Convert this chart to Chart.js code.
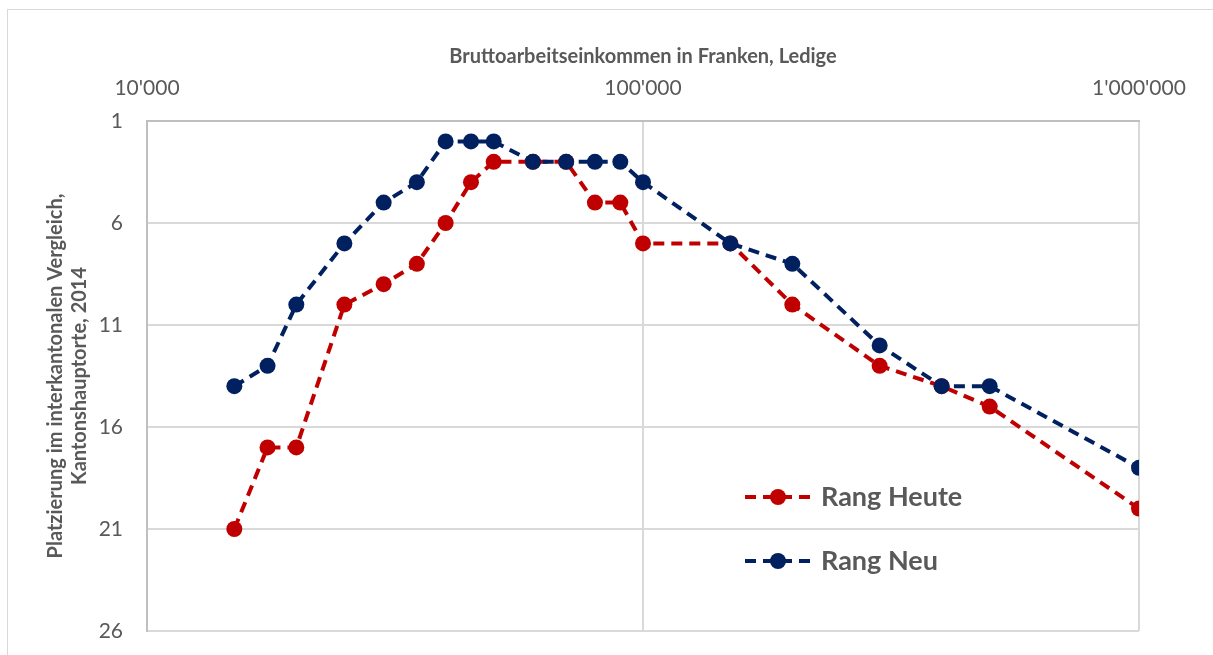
<!DOCTYPE html>
<html>
<head>
<meta charset="utf-8">
<script src="https://cdn.jsdelivr.net/npm/chart.js@4"></script>
<style>
  html, body { margin: 0; padding: 0; background: #fff; }
  #frame { position: absolute; left: 7px; top: 9px; width: 1220px; height: 660px; border: 1px solid #d9d9d9; box-sizing: border-box; }
  #wrap { position: absolute; left: 0; top: 0; width: 1213px; height: 655px; }
</style>
</head>
<body>
<div id="frame"></div>
<div id="wrap"><canvas id="chart"></canvas></div>
<script>
// Einkommen (CHF) und Rang der Kantonshauptorte
const incomes = [15000, 17500, 20000, 25000, 30000, 35000, 40000, 45000, 50000, 60000,
                 70000, 80000, 90000, 100000, 150000, 200000, 300000, 400000, 500000, 1000000];
const rangHeute = [21, 17, 17, 10, 9, 8, 6, 4, 3, 3, 3, 5, 5, 7, 7, 10, 13, 14, 15, 20];
const rangNeu   = [14, 13, 10, 7, 5, 4, 2, 2, 2, 3, 3, 3, 3, 4, 7, 8, 12, 14, 14, 18];
const xTicks = [10000, 100000, 1000000];
const yTicks = [1, 6, 11, 16, 21, 26];

const RED = "#C00000";
const BLUE = "#002060";
const FONT = "Lato, 'Open Sans', sans-serif";

function fmtCH(v) {
  return String(v).replace(/\B(?=(\d{3})+(?!\d))/g, "'");
}

function points(ys) {
  return incomes.map((x, i) => ({ x, y: ys[i] }));
}

// eigene Legende im Diagrammbereich
const legendPlugin = {
  id: "innerLegend",
  afterDatasetsDraw(chart) {
    const ctx = chart.ctx;
    const a = chart.chartArea;
    const items = [
      { label: "Rang Heute", color: RED, y: a.top + 376 },
      { label: "Rang Neu", color: BLUE, y: a.top + 440 }
    ];
    const x0 = a.left + 598;
    ctx.save();
    items.forEach(it => {
      ctx.strokeStyle = it.color;
      ctx.lineWidth = 4;
      ctx.setLineDash([11, 7]);
      ctx.beginPath();
      ctx.moveTo(x0, it.y);
      ctx.lineTo(x0 + 67, it.y);
      ctx.stroke();
      ctx.setLineDash([]);
      ctx.fillStyle = it.color;
      ctx.beginPath();
      ctx.arc(x0 + 33, it.y, 8, 0, Math.PI * 2);
      ctx.fill();
      ctx.fillStyle = "#595959";
      ctx.font = "bold 27px " + FONT;
      ctx.textBaseline = "middle";
      ctx.textAlign = "left";
      ctx.fillText(it.label, x0 + 76, it.y);
    });
    ctx.restore();
  }
};

const lineStyle = (color) => ({
  borderColor: color,
  backgroundColor: color,
  borderWidth: 4,
  borderDash: [11, 7],
  pointRadius: 8,
  pointHoverRadius: 8,
  pointBorderWidth: 0,
  pointBackgroundColor: color,
  fill: false,
  tension: 0
});

new Chart(document.getElementById("chart"), {
  type: "line",
  data: {
    datasets: [
      { label: "Rang Heute", data: points(rangHeute), order: 1, ...lineStyle(RED) },
      { label: "Rang Neu", data: points(rangNeu), order: 0, ...lineStyle(BLUE) }
    ]
  },
  options: {
    responsive: true,
    maintainAspectRatio: false,
    animation: false,
    layout: { padding: { left: 0, right: 74, top: 0, bottom: 24 } },
    plugins: {
      legend: { display: false },
      tooltip: { enabled: false }
    },
    scales: {
      x: {
        type: "logarithmic",
        position: "top",
        min: 10000,
        max: 1000000,
        afterBuildTicks: (scale) => { scale.ticks = xTicks.map(v => ({ value: v })); },
        afterFit: (scale) => {
          scale.height = 121;
          scale.paddingLeft = 0;
          scale.paddingRight = 0;
        },
        grid: { color: "#d9d9d9", lineWidth: 2, drawTicks: false },
        border: { color: "#bfbfbf", width: 2 },
        ticks: {
          color: "#595959",
          font: { family: FONT, size: 21 },
          padding: 20,
          maxRotation: 0,
          autoSkip: false,
          callback: (v) => fmtCH(v)
        },
        title: {
          display: true,
          text: "Bruttoarbeitseinkommen in Franken, Ledige",
          color: "#595959",
          font: { family: FONT, size: 20, weight: "bold", lineHeight: 1.2 },
          padding: { top: 45, bottom: 0 }
        }
      },
      y: {
        type: "linear",
        reverse: true,
        min: 1,
        max: 26,
        afterBuildTicks: (scale) => { scale.ticks = yTicks.map(v => ({ value: v })); },
        afterFit: (scale) => {
          scale.width = 147;
          scale.paddingTop = 0;
          scale.paddingBottom = 0;
        },
        grid: { color: "#d9d9d9", lineWidth: 2, drawTicks: false },
        border: { color: "#bfbfbf", width: 2 },
        ticks: {
          color: "#595959",
          font: { family: FONT, size: 21 },
          padding: 24
        },
        title: {
          display: true,
          text: ["Platzierung im interkantonalen Vergleich,", "Kantonshauptorte, 2014"],
          color: "#595959",
          font: { family: FONT, size: 20, weight: "bold", lineHeight: 1.2 },
          padding: { top: 44, bottom: 0 }
        }
      }
    }
  },
  plugins: [legendPlugin]
});
</script>
</body>
</html>
